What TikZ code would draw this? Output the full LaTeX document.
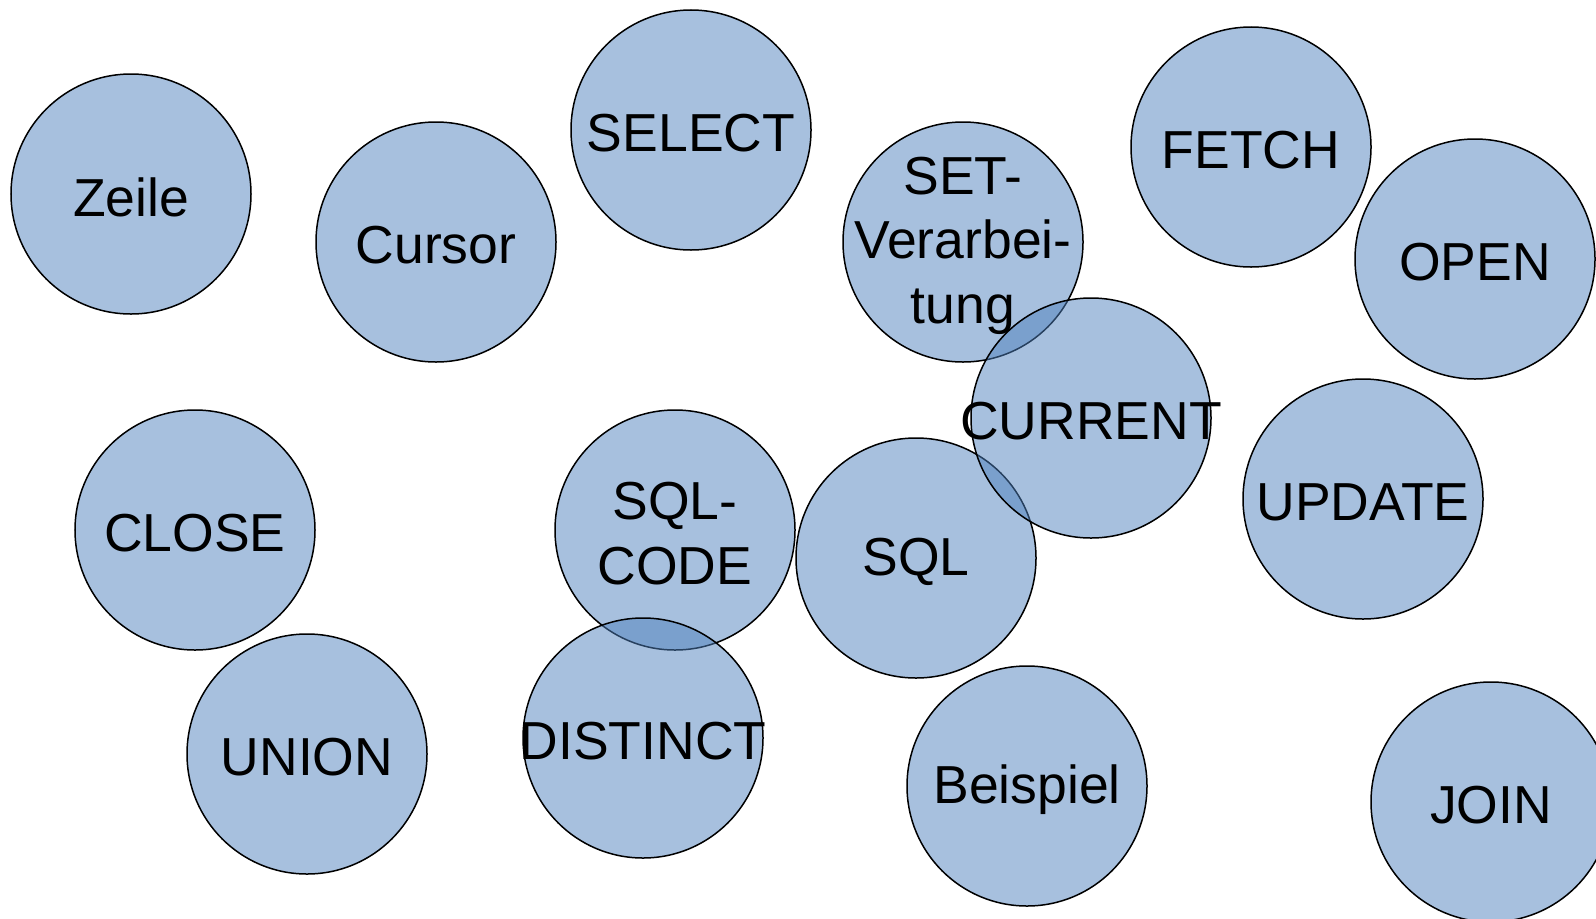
\documentclass[tikz,border=0pt]{standalone}
\usepackage{fontspec}
\setmainfont{Liberation Sans}
\definecolor{cfill}{RGB}{79,129,189}
\tikzset{
  bubble/.style={circle, draw=black, line width=1.5bp, fill=cfill, fill opacity=0.5, draw opacity=1, minimum size=240bp, inner sep=0pt},
  lbl/.style={text=black, align=center, font=\fontsize{53.5bp}{64.5bp}\selectfont, inner sep=0pt, yshift=-3.5bp}
}
\begin{document}
\begin{tikzpicture}[x=1bp,y=-1bp]
\clip (0,0) rectangle (1596,918);
\useasboundingbox (0,0) rectangle (1596,918);
% circles
\node[bubble] (zeile) at (131,194) {};
\node[bubble] (cursor) at (436,242) {};
\node[bubble] (select) at (691,130) {};
\node[bubble] (set) at (963,242) {};
\node[bubble] (fetch) at (1251,147) {};
\node[bubble] (open) at (1475,259) {};
\node[bubble] (sql) at (916,558) {};
\node[bubble] (current) at (1091,418) {};
\node[bubble] (update) at (1363,499) {};
\node[bubble] (close) at (195,530) {};
\node[bubble] (sqlcode) at (675,530) {};
\node[bubble] (union) at (307,754) {};
\node[bubble] (distinct) at (643,738) {};
\node[bubble] (beispiel) at (1027,786) {};
\node[bubble] (join) at (1491,802) {};
% labels
\node[lbl] (tzeile) at (zeile) {Zeile};
\node[lbl] (tcursor) at (cursor) {Cursor};
\node[lbl] (tselect) at (select) {SELECT};
\node[lbl] (tset) at (set) {SET-\\Verarbei-\\tung};
\node[lbl] (tfetch) at (fetch) {FETCH};
\node[lbl] (topen) at (open) {OPEN};
\node[lbl] (tcurrent) at (current) {CURRENT};
\node[lbl] (tupdate) at (update) {UPDATE};
\node[lbl] (tclose) at (close) {CLOSE};
\node[lbl] (tsqlcode) at (sqlcode) {SQL-\\CODE};
\node[lbl] (tsql) at (sql) {SQL};
\node[lbl] (tunion) at (union) {UNION};
\node[lbl] (tdistinct) at (distinct) {DISTINCT};
\node[lbl] (tbeispiel) at (beispiel) {Beispiel};
\node[lbl] (tjoin) at (join) {JOIN};
\end{tikzpicture}
\end{document}
